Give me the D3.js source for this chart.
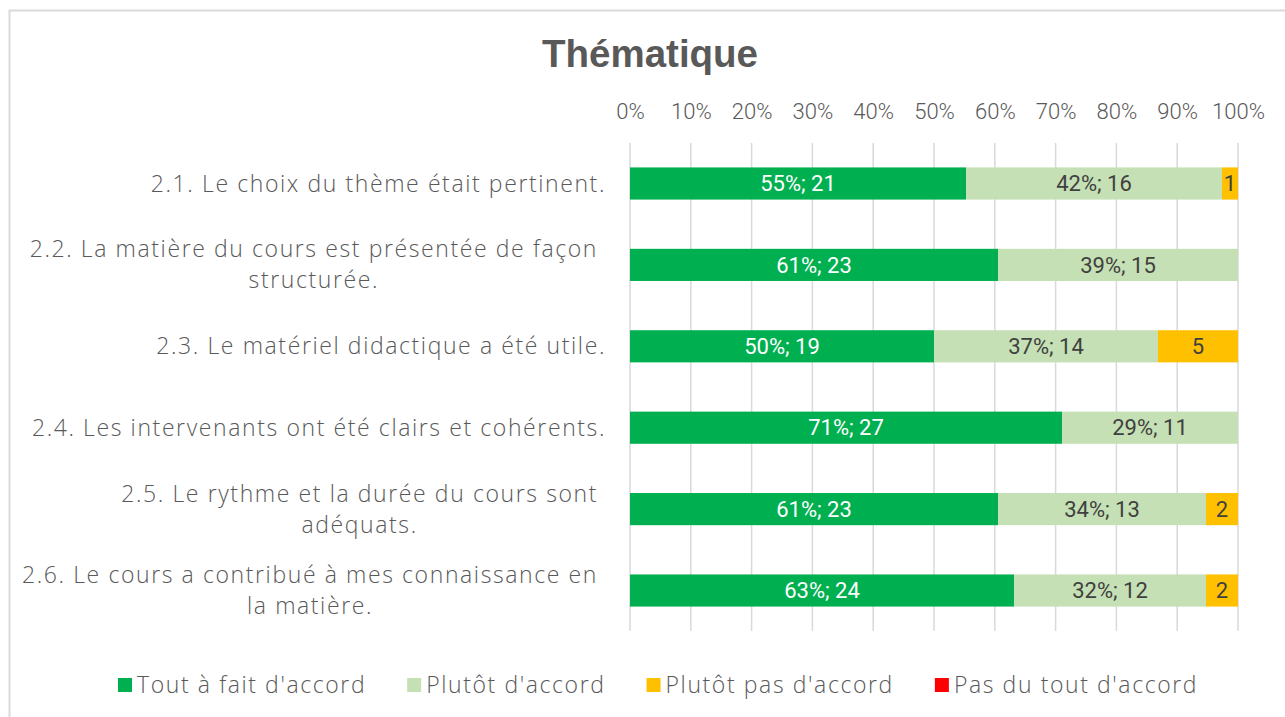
<!DOCTYPE html>
<html><head><meta charset="utf-8">
<script src="https://cdn.jsdelivr.net/npm/d3@7"></script>
<style>body{margin:0;background:#fff;}svg{display:block;}</style>
</head><body>
<svg id="c" width="1285" height="717"></svg>
<script>
const categories = [
  ["2.1. Le choix du thème était pertinent."],
  ["2.2. La matière du cours est présentée de façon", "structurée."],
  ["2.3. Le matériel didactique a été utile."],
  ["2.4. Les intervenants ont été clairs et cohérents."],
  ["2.5. Le rythme et la durée du cours sont", "adéquats."],
  ["2.6. Le cours a contribué à mes connaissance en", "la matière."]
];
const seriesNames = ["Tout à fait d'accord", "Plutôt d'accord", "Plutôt pas d'accord", "Pas du tout d'accord"];
const toutAFait = [21, 23, 19, 27, 23, 24];
const plutot = [16, 15, 14, 11, 13, 12];
const plutotPas = [1, 0, 5, 0, 2, 2];
const pasDuTout = [0, 0, 0, 0, 0, 0];
const tickValues = [0, 0.1, 0.2, 0.3, 0.4, 0.5, 0.6, 0.7, 0.8, 0.9, 1];
const colors = ["#00B050", "#C5E0B4", "#FFC000", "#FF0000"];
const labelColors = ["#FFFFFF", "#404040", "#404040", "#404040"];

const svg = d3.select("#c");
const txt = "#595959";
const light = "'Open Sans', Roboto, sans-serif";
const narrow = "Roboto, sans-serif";

// border
svg.append("rect").attr("x", 9.5).attr("y", 10.5).attr("width", 1290).attr("height", 720)
  .attr("fill", "none").attr("stroke", "#D9D9D9").attr("stroke-width", 2);

// title
svg.append("text").attr("x", 650).attr("y", 67).attr("text-anchor", "middle")
  .attr("font-family", "'Liberation Sans', Arial, sans-serif").attr("font-weight", 700).attr("font-size", 38.5)
  .attr("fill", txt).text("Thématique");

const rows = categories.map((c, i) => {
  const vals = [toutAFait[i], plutot[i], plutotPas[i], pasDuTout[i]];
  return {i, vals, total: d3.sum(vals)};
});

const x = d3.scaleLinear().domain([0, 1]).range([630, 1238]);
const y = d3.scaleBand().domain(d3.range(categories.length)).range([143, 631]).paddingInner(0.605).paddingOuter(0.3);

// gridlines
svg.append("g").selectAll("line").data(tickValues).join("line")
  .attr("x1", d => x(d)).attr("x2", d => x(d)).attr("y1", 143).attr("y2", 631)
  .attr("stroke", "#D9D9D9").attr("stroke-width", 1.5);

// top axis labels
const ax = svg.append("g").attr("transform", "translate(0,111)")
  .call(d3.axisTop(x).tickValues(tickValues).tickFormat(d3.format(".0%")).tickSize(0).tickPadding(0));
ax.select(".domain").remove();
ax.selectAll("text").attr("font-family", narrow).attr("font-size", 22).attr("font-weight", 300).attr("fill", txt).attr("dy", "0.35em");

// bars
const segs = [];
rows.forEach(r => {
  let cum = 0;
  r.vals.forEach((v, s) => {
    segs.push({row: r.i, s, v, x0: cum / r.total, x1: (cum + v) / r.total, pct: v / r.total});
    cum += v;
  });
});
svg.append("g").selectAll("rect").data(segs.filter(d => d.v > 0)).join("rect")
  .attr("x", d => x(d.x0)).attr("width", d => x(d.x1) - x(d.x0))
  .attr("y", d => y(d.row)).attr("height", y.bandwidth())
  .attr("fill", d => colors[d.s]);

svg.append("g").selectAll("text").data(segs.filter(d => d.v > 0)).join("text")
  .attr("x", d => (x(d.x0) + x(d.x1)) / 2).attr("y", d => y(d.row) + y.bandwidth() / 2)
  .attr("dy", "0.35em").attr("text-anchor", "middle")
  .attr("font-family", narrow).attr("font-size", 22)
  .attr("fill", d => labelColors[d.s])
  .text(d => d.s >= 2 ? d.v : `${Math.round(d.pct * 100)}%; ${d.v}`);

// category labels
const catG = svg.append("g");
categories.forEach((lines, i) => {
  const g = catG.append("g");
  const cy = y(i) + y.bandwidth() / 2;
  const lh = 31;
  const ts = lines.map((l, k) => g.append("text")
    .attr("y", cy + (k - (lines.length - 1) / 2) * lh).attr("dy", "0.35em")
    .attr("text-anchor", "middle").attr("font-family", light).attr("font-weight", 300)
    .attr("font-size", 23).attr("letter-spacing", 1.6).attr("fill", txt).text(l));
  const maxW = d3.max(ts, t => t.node().getComputedTextLength());
  const right = lines.length > 1 ? 598 : 606;
  ts.forEach(t => t.attr("x", right - maxW / 2));
});

// legend
const leg = svg.append("g");
let lx = 118;
seriesNames.forEach((n, s) => {
  leg.append("rect").attr("x", lx).attr("y", 678).attr("width", 14).attr("height", 14).attr("fill", colors[s]);
  const t = leg.append("text").attr("x", lx + 19).attr("y", 685).attr("dy", "0.35em")
    .attr("font-family", light).attr("font-weight", 300).attr("font-size", 23).attr("letter-spacing", 1.6)
    .attr("fill", txt).text(n);
  lx += 19 + t.node().getComputedTextLength() + 41;
});
</script>
</body></html>
